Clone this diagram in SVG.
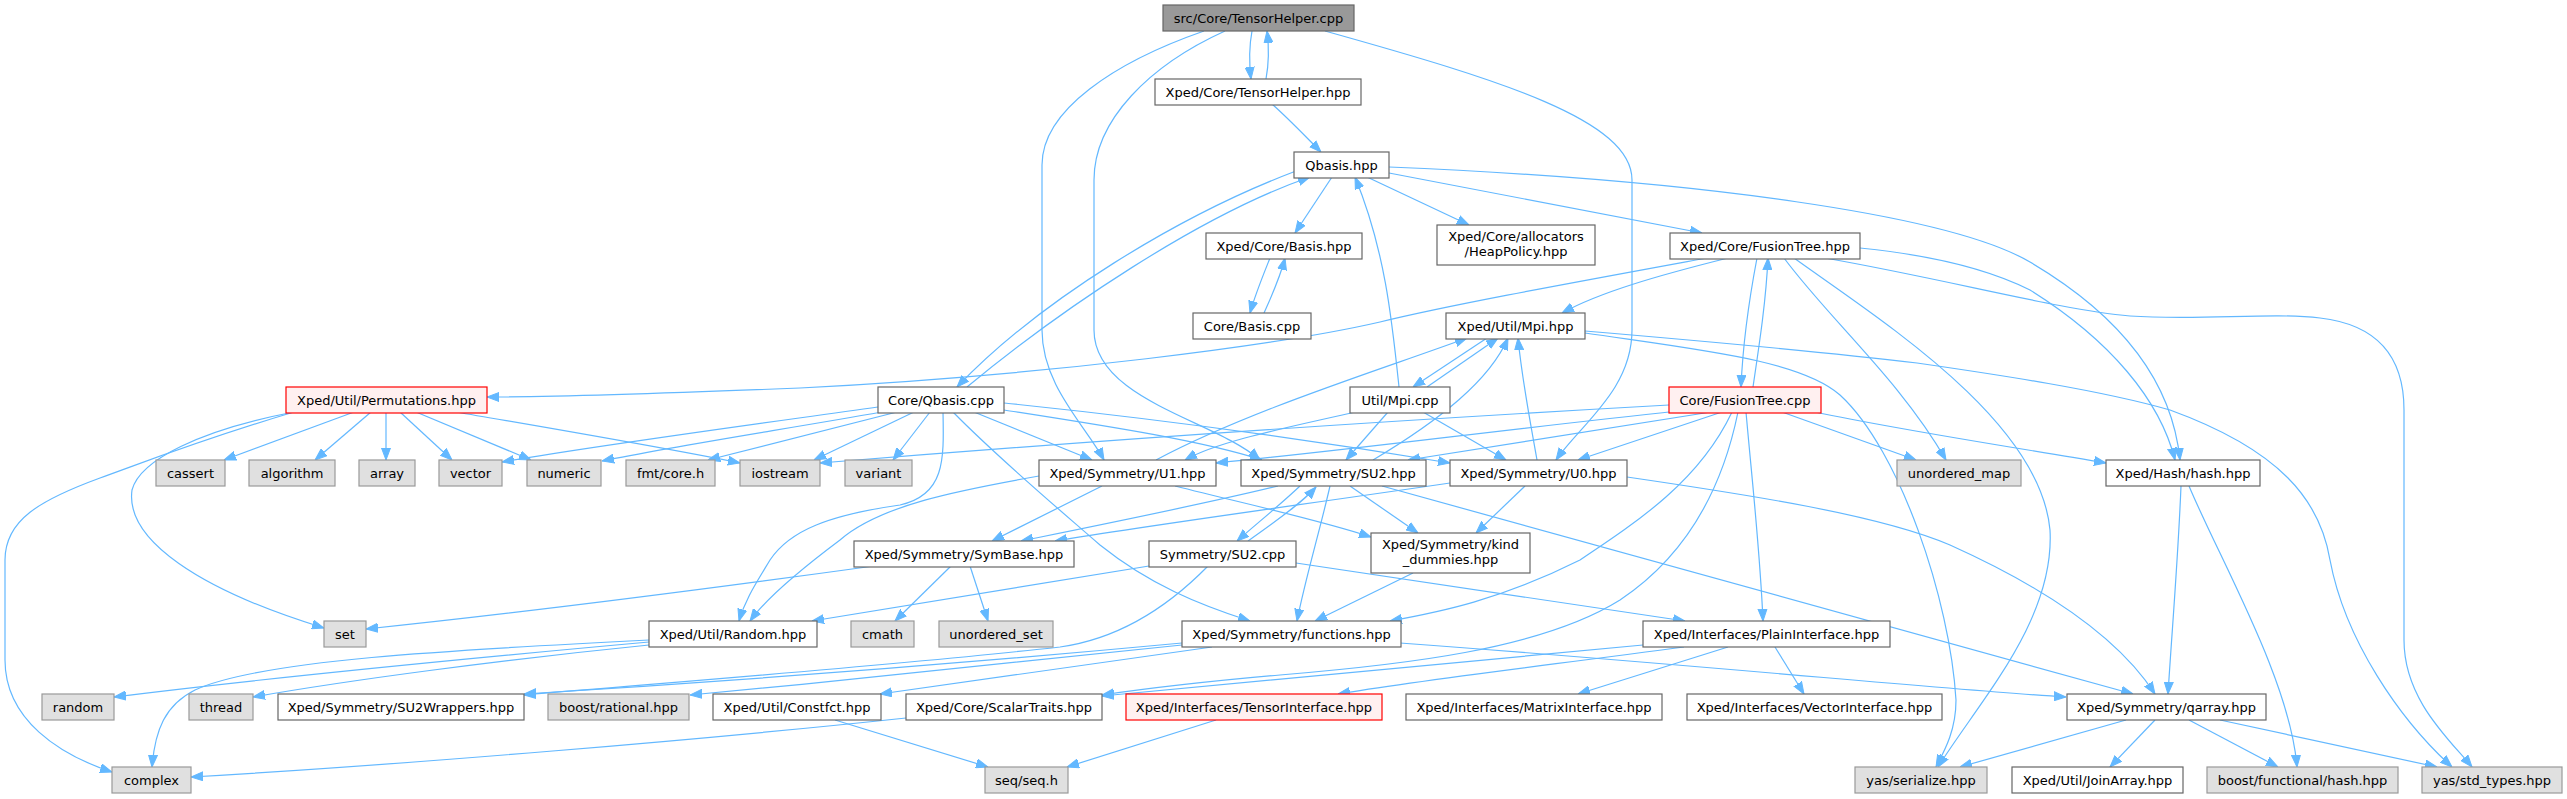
<svg xmlns="http://www.w3.org/2000/svg" width="2567" height="799" viewBox="0 0 2567 799">
<style>
rect{stroke-width:1.2}
.n rect{fill:#ffffff;stroke:#666666}
.g rect{fill:#e0e0e0;stroke:#999999}
.r rect{fill:#fff0f0;stroke:#ff0000}
.root rect{fill:#999999;stroke:#666666}
text{font-family:"DejaVu Sans",sans-serif;font-size:13px;text-anchor:middle;fill:#000000}
#edges path{fill:none;stroke:#63b8ff;stroke-width:1.2;marker-end:url(#ah)}
</style>
<defs>
<marker id="ah" markerWidth="12" markerHeight="10" refX="12" refY="5" orient="auto" markerUnits="userSpaceOnUse">
<path d="M0,0.5 L12,5 L0,9.5 z" fill="#63b8ff" stroke="#63b8ff" stroke-width="1"/>
</marker>
</defs>
<rect width="2567" height="799" fill="#ffffff"/>
<g id="edges">
<path d="M1252,31 C1249,47 1249,62 1251,79"/>
<path d="M1266,79 C1269,63 1269,47 1267,31"/>
<path d="M1204,31 C1115,62 1042,110 1042,165 L1042,330 C1042,385 1085,425 1104,460"/>
<path d="M1225,31 C1150,65 1094,120 1094,180 L1094,330 C1094,400 1215,420 1260,460"/>
<path d="M1325,31 C1500,80 1632,120 1632,180 L1632,330 C1632,390 1580,425 1556,460"/>
<path d="M1272,104 C1290,120 1305,136 1321,152"/>
<path d="M1296,171 C1180,215 1040,300 957,387"/>
<path d="M967,387 C1060,310 1200,215 1310,177"/>
<path d="M1332,177 L1295,233"/>
<path d="M1367,177 L1469,225"/>
<path d="M1389,173 L1702,233"/>
<path d="M1389,167 C1700,180 1950,215 2030,262 C2120,315 2172,380 2180,460"/>
<path d="M1270,258 C1262,278 1255,295 1250,313"/>
<path d="M1264,313 C1272,295 1280,278 1285,258"/>
<path d="M1707,258 C1560,285 1450,305 1380,322 C1280,345 1050,375 800,388 C650,394 560,397 487,397"/>
<path d="M1728,258 C1660,275 1600,292 1562,313"/>
<path d="M1757,258 C1749,300 1743,340 1741,387"/>
<path d="M1753,387 C1760,340 1766,300 1768,258"/>
<path d="M1784,258 C1830,320 1900,380 1946,460"/>
<path d="M1794,258 C1880,320 2040,420 2050,530 C2055,620 1980,700 1938,767"/>
<path d="M1825,258 C1950,280 2060,310 2130,316 C2200,321 2270,312 2320,318 C2380,325 2404,360 2404,410 L2404,640 C2404,700 2450,740 2472,767"/>
<path d="M1860,248 C1930,255 1990,270 2030,290 C2110,340 2160,400 2175,460"/>
<path d="M1487,338 L1413,387"/>
<path d="M1427,387 L1498,338"/>
<path d="M1585,333 C1700,350 1800,360 1840,395 C1900,450 1950,600 1956,700 C1956,730 1945,750 1936,767"/>
<path d="M1585,331 C1750,345 1850,355 1917,363 C2000,375 2100,390 2170,410 C2280,450 2320,500 2330,560 C2345,640 2400,720 2452,767"/>
<path d="M1156,460 C1250,410 1380,370 1467,338"/>
<path d="M1373,460 C1440,420 1490,380 1508,338"/>
<path d="M1537,460 C1530,420 1522,380 1518,338"/>
<path d="M1399,387 C1392,320 1385,250 1355,177"/>
<path d="M1355,412 C1300,425 1220,440 1185,460"/>
<path d="M1388,412 L1346,460"/>
<path d="M1423,412 L1506,460"/>
<path d="M878,407 C750,425 600,445 502,462"/>
<path d="M882,412 C780,430 680,445 602,461"/>
<path d="M897,412 L708,460"/>
<path d="M914,412 L814,460"/>
<path d="M930,412 L893,460"/>
<path d="M974,412 L1092,460"/>
<path d="M1004,410 C1100,425 1200,440 1262,460"/>
<path d="M1004,403 C1150,418 1300,438 1450,463"/>
<path d="M943,412 C944,460 945,495 900,505 C830,515 790,530 770,560 C755,585 745,600 739,621"/>
<path d="M1039,476 C960,490 880,505 840,540 C800,570 765,600 750,621"/>
<path d="M1149,566 L812,621"/>
<path d="M1102,486 L992,541"/>
<path d="M1278,486 C1200,505 1100,525 1021,541"/>
<path d="M1450,483 C1300,505 1150,525 1055,541"/>
<path d="M1175,486 C1250,505 1320,520 1371,537"/>
<path d="M1350,486 L1418,533"/>
<path d="M1525,486 L1476,533"/>
<path d="M1330,486 C1320,530 1305,580 1297,621"/>
<path d="M1413,573 L1315,621"/>
<path d="M953,412 C1000,460 1060,510 1100,545 C1150,585 1200,605 1250,621"/>
<path d="M1732,412 C1700,480 1640,520 1580,560 C1500,600 1440,612 1390,621"/>
<path d="M1746,412 C1752,480 1760,550 1763,621"/>
<path d="M1738,412 C1720,500 1680,560 1620,600 C1540,650 1400,665 1280,675 C1200,682 1150,688 1102,695"/>
<path d="M1684,647 C1550,665 1420,680 1338,694"/>
<path d="M1728,647 L1578,694"/>
<path d="M1775,647 L1804,694"/>
<path d="M1643,645 C1500,660 1300,677 1102,696"/>
<path d="M1296,563 L1685,621"/>
<path d="M1208,566 C1160,615 1110,640 1060,647 C900,665 700,680 524,695"/>
<path d="M1182,643 C1000,660 750,680 524,694"/>
<path d="M1182,645 C1000,665 850,680 690,695"/>
<path d="M1212,647 L880,694"/>
<path d="M1400,643 C1700,665 1950,690 2066,697"/>
<path d="M1382,486 L2133,694"/>
<path d="M1627,477 C1750,495 1880,515 1950,545 C2050,590 2120,640 2155,694"/>
<path d="M2181,486 C2178,560 2172,630 2168,694"/>
<path d="M2189,486 C2220,560 2290,680 2297,767"/>
<path d="M2126,720 L1960,767"/>
<path d="M2155,720 L2110,767"/>
<path d="M2189,720 L2278,767"/>
<path d="M2220,720 L2437,767"/>
<path d="M1216,720 L1067,767"/>
<path d="M835,720 L988,767"/>
<path d="M906,718 C700,740 400,765 191,777"/>
<path d="M649,642 C450,660 250,680 114,697"/>
<path d="M649,645 C500,660 350,680 253,697"/>
<path d="M649,640 C450,650 260,660 195,690 C165,705 155,730 152,767"/>
<path d="M874,566 C700,590 500,615 366,629"/>
<path d="M951,566 L895,621"/>
<path d="M970,566 L988,621"/>
<path d="M294,412 C200,430 140,460 132,490 C125,540 200,590 324,628"/>
<path d="M294,412 C200,440 150,460 100,478 C40,500 5,520 5,560 L5,660 C5,720 60,755 112,772"/>
<path d="M354,412 L224,460"/>
<path d="M371,412 L315,460"/>
<path d="M386,412 L386,460"/>
<path d="M400,412 L452,460"/>
<path d="M416,412 L531,460"/>
<path d="M456,412 C560,430 650,445 740,463"/>
<path d="M1669,405 C1400,420 1100,440 820,463"/>
<path d="M1678,411 C1500,430 1350,450 1216,463"/>
<path d="M1711,412 L1408,460"/>
<path d="M1722,412 L1578,460"/>
<path d="M1782,412 L1916,460"/>
<path d="M1815,412 C1900,430 2000,445 2106,463"/>
<path d="M1300,486 C1280,505 1255,525 1237,541"/>
<path d="M1248,541 C1270,525 1300,505 1316,487"/>
</g>
<g id="n_root" class="root"><rect x="1163" y="5" width="191" height="26"/><text x="1258.5" y="22.5">src/Core/TensorHelper.cpp</text></g>
<g id="n_th" class="n"><rect x="1155" y="79" width="206" height="26"/><text x="1258" y="96.5">Xped/Core/TensorHelper.hpp</text></g>
<g id="n_qbh" class="n"><rect x="1294" y="152" width="95" height="26"/><text x="1341.5" y="169.5">Qbasis.hpp</text></g>
<g id="n_basish" class="n"><rect x="1206" y="233" width="156" height="26"/><text x="1284" y="250.5">Xped/Core/Basis.hpp</text></g>
<g id="n_heap" class="n"><rect x="1437" y="225" width="158" height="40"/><text x="1516" y="241">Xped/Core/allocators</text><text x="1516" y="256">/HeapPolicy.hpp</text></g>
<g id="n_fth" class="n"><rect x="1670" y="233" width="190" height="26"/><text x="1765" y="250.5">Xped/Core/FusionTree.hpp</text></g>
<g id="n_basiscpp" class="n"><rect x="1193" y="313" width="118" height="26"/><text x="1252" y="330.5">Core/Basis.cpp</text></g>
<g id="n_mpih" class="n"><rect x="1446" y="313" width="139" height="26"/><text x="1515.5" y="330.5">Xped/Util/Mpi.hpp</text></g>
<g id="n_perm" class="r"><rect x="286" y="387" width="201" height="26"/><text x="386.5" y="404.5">Xped/Util/Permutations.hpp</text></g>
<g id="n_qbcpp" class="n"><rect x="878" y="387" width="126" height="26"/><text x="941" y="404.5">Core/Qbasis.cpp</text></g>
<g id="n_mpicpp" class="n"><rect x="1350" y="387" width="100" height="26"/><text x="1400" y="404.5">Util/Mpi.cpp</text></g>
<g id="n_ftcpp" class="r"><rect x="1669" y="387" width="152" height="26"/><text x="1745" y="404.5">Core/FusionTree.cpp</text></g>
<g id="n_cassert" class="g"><rect x="156" y="460" width="69" height="26"/><text x="190.5" y="477.5">cassert</text></g>
<g id="n_algorithm" class="g"><rect x="249" y="460" width="86" height="26"/><text x="292" y="477.5">algorithm</text></g>
<g id="n_array" class="g"><rect x="359" y="460" width="56" height="26"/><text x="387" y="477.5">array</text></g>
<g id="n_vector" class="g"><rect x="439" y="460" width="63" height="26"/><text x="470.5" y="477.5">vector</text></g>
<g id="n_numeric" class="g"><rect x="527" y="460" width="74" height="26"/><text x="564" y="477.5">numeric</text></g>
<g id="n_fmt" class="g"><rect x="626" y="460" width="89" height="26"/><text x="670.5" y="477.5">fmt/core.h</text></g>
<g id="n_iostream" class="g"><rect x="740" y="460" width="80" height="26"/><text x="780" y="477.5">iostream</text></g>
<g id="n_variant" class="g"><rect x="845" y="460" width="67" height="26"/><text x="878.5" y="477.5">variant</text></g>
<g id="n_u1" class="n"><rect x="1039" y="460" width="177" height="26"/><text x="1127.5" y="477.5">Xped/Symmetry/U1.hpp</text></g>
<g id="n_su2" class="n"><rect x="1241" y="460" width="185" height="26"/><text x="1333.5" y="477.5">Xped/Symmetry/SU2.hpp</text></g>
<g id="n_u0" class="n"><rect x="1450" y="460" width="177" height="26"/><text x="1538.5" y="477.5">Xped/Symmetry/U0.hpp</text></g>
<g id="n_umap" class="g"><rect x="1897" y="460" width="124" height="26"/><text x="1959" y="477.5">unordered_map</text></g>
<g id="n_hash" class="n"><rect x="2106" y="460" width="154" height="26"/><text x="2183" y="477.5">Xped/Hash/hash.hpp</text></g>
<g id="n_symbase" class="n"><rect x="854" y="541" width="220" height="26"/><text x="964" y="558.5">Xped/Symmetry/SymBase.hpp</text></g>
<g id="n_su2cpp" class="n"><rect x="1149" y="541" width="147" height="26"/><text x="1222.5" y="558.5">Symmetry/SU2.cpp</text></g>
<g id="n_kind" class="n"><rect x="1371" y="533" width="159" height="40"/><text x="1450.5" y="549">Xped/Symmetry/kind</text><text x="1450.5" y="564">_dummies.hpp</text></g>
<g id="n_set" class="g"><rect x="324" y="621" width="42" height="26"/><text x="345" y="638.5">set</text></g>
<g id="n_randomh" class="n"><rect x="649" y="621" width="168" height="26"/><text x="733" y="638.5">Xped/Util/Random.hpp</text></g>
<g id="n_cmath" class="g"><rect x="851" y="621" width="63" height="26"/><text x="882.5" y="638.5">cmath</text></g>
<g id="n_uset" class="g"><rect x="939" y="621" width="114" height="26"/><text x="996" y="638.5">unordered_set</text></g>
<g id="n_functions" class="n"><rect x="1182" y="621" width="219" height="26"/><text x="1291.5" y="638.5">Xped/Symmetry/functions.hpp</text></g>
<g id="n_plain" class="n"><rect x="1643" y="621" width="247" height="26"/><text x="1766.5" y="638.5">Xped/Interfaces/PlainInterface.hpp</text></g>
<g id="n_random" class="g"><rect x="42" y="694" width="72" height="26"/><text x="78" y="711.5">random</text></g>
<g id="n_thread" class="g"><rect x="189" y="694" width="64" height="26"/><text x="221" y="711.5">thread</text></g>
<g id="n_su2w" class="n"><rect x="278" y="694" width="246" height="26"/><text x="401" y="711.5">Xped/Symmetry/SU2Wrappers.hpp</text></g>
<g id="n_rational" class="g"><rect x="548" y="694" width="141" height="26"/><text x="618.5" y="711.5">boost/rational.hpp</text></g>
<g id="n_constfct" class="n"><rect x="713" y="694" width="168" height="26"/><text x="797" y="711.5">Xped/Util/Constfct.hpp</text></g>
<g id="n_scalar" class="n"><rect x="906" y="694" width="196" height="26"/><text x="1004" y="711.5">Xped/Core/ScalarTraits.hpp</text></g>
<g id="n_tensor" class="r"><rect x="1126" y="694" width="256" height="26"/><text x="1254" y="711.5">Xped/Interfaces/TensorInterface.hpp</text></g>
<g id="n_matrix" class="n"><rect x="1406" y="694" width="256" height="26"/><text x="1534" y="711.5">Xped/Interfaces/MatrixInterface.hpp</text></g>
<g id="n_vectorif" class="n"><rect x="1687" y="694" width="255" height="26"/><text x="1814.5" y="711.5">Xped/Interfaces/VectorInterface.hpp</text></g>
<g id="n_qarray" class="n"><rect x="2067" y="694" width="199" height="26"/><text x="2166.5" y="711.5">Xped/Symmetry/qarray.hpp</text></g>
<g id="n_complex" class="g"><rect x="112" y="767" width="79" height="26"/><text x="151.5" y="784.5">complex</text></g>
<g id="n_seq" class="g"><rect x="985" y="767" width="83" height="26"/><text x="1026.5" y="784.5">seq/seq.h</text></g>
<g id="n_yser" class="g"><rect x="1855" y="767" width="132" height="26"/><text x="1921" y="784.5">yas/serialize.hpp</text></g>
<g id="n_join" class="n"><rect x="2012" y="767" width="171" height="26"/><text x="2097.5" y="784.5">Xped/Util/JoinArray.hpp</text></g>
<g id="n_bfhash" class="g"><rect x="2207" y="767" width="191" height="26"/><text x="2302.5" y="784.5">boost/functional/hash.hpp</text></g>
<g id="n_ystd" class="g"><rect x="2422" y="767" width="140" height="26"/><text x="2492" y="784.5">yas/std_types.hpp</text></g>
</svg>
